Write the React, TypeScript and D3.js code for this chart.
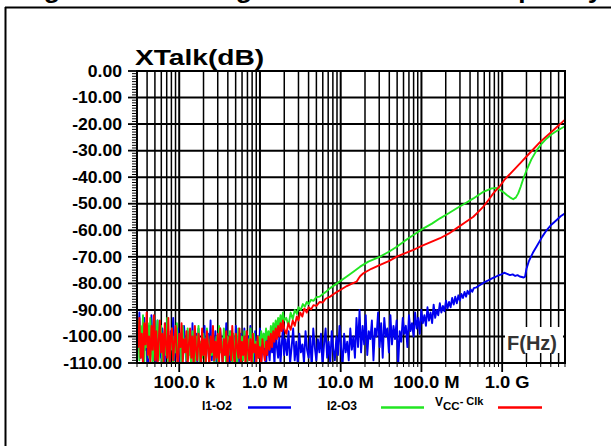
import React from "react";
import * as d3 from "d3";

// ---------- data ----------
const NOISE_F_KHZ = [
  30, 31.05, 32.1, 33.3, 34.4, 35.6, 36.9, 38.2, 39.5, 40.9,
  42.3, 43.8, 45.3, 46.9, 48.6, 50.3, 52, 53.9, 55.8, 57.7,
  59.7, 61.8, 64, 66.2, 68.5, 70.9, 73.4, 76, 78.6, 81.4,
  84.2, 87.2, 90.2, 93.4, 96.6, 100, 103.5, 107, 110.8, 114.7,
  118.7, 122.9, 127.2, 131.6, 136.2, 141, 145.9, 151, 156.3, 161.8,
  167.4, 173.3, 179.4, 185.6, 192.1, 198.8, 205.8, 213, 220.5, 228.2,
  236.2, 244.4, 253, 261.9, 271, 280.5, 290.3, 300.5, 311, 321.9,
  333.1, 344.8, 356.9, 369.4, 382.3, 395.6, 409.5, 423.8, 438.6, 454,
  469.9, 486.3, 503.3, 520.9, 539.2, 558, 577.6, 597.8, 618.7, 640.4,
  662.8, 686, 710, 734.8, 760.5, 787.2, 814.7, 843.2, 872.7, 903.3,
  934.9, 967.6, 1001, 1036, 1073, 1110, 1149, 1189, 1231, 1274,
  1319, 1365, 1413, 1462, 1513, 1566, 1621, 1678, 1737, 1797,
  1860, 1925, 1993,
];
const RED_LOW_DB = [
  -97, -104, -93, -108, -99, -111, -95, -103, -91, -107,
  -100, -110, -96, -105, -92, -109, -98, -112, -101, -94,
  -106, -99, -110, -95, -103, -108, -93, -111, -100, -97,
  -109, -102, -96, -107, -112, -99, -104, -95, -110, -101,
  -106, -98, -111, -103, -97, -108, -100, -112, -96, -105,
  -109, -99, -103, -111, -97, -107, -101, -110, -98, -104,
  -112, -100, -106, -96, -109, -102, -108, -99, -111, -97,
  -105, -110, -101, -107, -98, -112, -103, -100, -109, -96,
  -106, -111, -99, -104, -108, -97, -110, -102, -107, -100,
  -112, -98, -105, -109, -101, -111, -99, -106, -103, -110,
  -100, -108, -104, -111, -101, -106, -109, -102, -107, -100,
  -105, -99, -104, -98, -102, -97, -101, -96, -100, -95,
  -98, -94, -97,
];
const GREEN_LOW_DB = [
  -101, -94, -109, -96, -106, -92, -110, -99, -104, -95,
  -108, -93, -103, -111, -97, -106, -100, -94, -109, -102,
  -96, -111, -104, -98, -107, -93, -110, -101, -105, -97,
  -112, -100, -106, -95, -108, -103, -99, -111, -96, -105,
  -101, -109, -97, -107, -103, -112, -98, -104, -110, -100,
  -106, -96, -111, -102, -108, -99, -105, -112, -97, -103,
  -109, -101, -107, -98, -111, -104, -100, -110, -96, -106,
  -102, -109, -97, -105, -111, -100, -107, -98, -104, -110,
  -99, -106, -102, -111, -97, -108, -103, -100, -109, -98,
  -105, -110, -101, -107, -97, -104, -111, -99, -106, -102,
  -108, -100, -105, -98, -103, -99, -104, -97, -101, -98,
  -102, -96, -100, -95, -98, -94, -97, -93, -96, -92,
  -95, -91, -94,
];
const BLUE_LOW_DB = [
  -95, -103, -91, -108, -98, -110, -93, -105, -100, -112,
  -96, -107, -92, -104, -109, -99, -111, -94, -106, -101,
  -108, -97, -103, -110, -95, -107, -100, -112, -98, -104,
  -93, -109, -102, -106, -97, -111, -99, -105, -108, -96,
  -103, -110, -98, -106, -101, -112, -95, -108, -102, -99,
  -110, -97, -105, -109, -100, -106, -96, -111, -103, -99,
  -107, -94, -109, -102, -105, -98, -111, -100, -106, -97,
  -104, -110, -99, -107, -95, -108, -102, -111, -98, -105,
  -100, -109, -96, -106, -103, -112, -99, -104, -108, -97,
  -105, -110, -100, -107, -96, -109, -103, -111, -98, -106,
  -101, -108, -97, -110, -104, -99, -107, -112, -100, -105,
  -109, -98, -106, -102, -111, -96, -104, -108, -100, -110,
  -103, -97, -107,
];
const BLUE_MID_F_KHZ = [
  2070, 2163, 2260, 2362, 2468, 2579, 2695, 2817, 2943, 3076,
  3214, 3359, 3510, 3668, 3833, 4006, 4186, 4374, 4571, 4777,
  4992, 5217, 5451, 5697, 5953, 6221, 6501, 6794, 7099, 7419,
  7753, 8101, 8466, 8847, 9245, 9661, 10100, 10550, 11030, 11520,
  12040, 12580, 13150, 13740, 14360, 15010, 15680, 16390, 17120, 17890,
  18700, 19540, 20420, 21340, 22300, 23300, 24350, 25450, 26590, 27790,
  29040, 30350, 31710, 33140, 34630, 36190, 37820, 39520, 41300, 43160,
  45100, 47130, 49250, 51470, 53790, 56210, 58740, 61380, 64140, 67030,
  70050, 73200, 76490, 79930, 83530, 87290, 91220, 95320, 99610, 104100,
  108800, 113700, 118800, 124100, 129700, 135600, 141700, 148000, 154700, 161700,
  169000, 176600, 184500, 192800, 201500, 210500, 220000, 229900, 240300, 251100,
  262400, 274200, 286500, 299400, 312900, 327000, 341700, 357100, 373100, 389900,
  407500, 425800, 445000,
];
const BLUE_MID_DB = [
  -101, -107, -98, -110, -104, -97, -109, -102, -111, -99,
  -106, -103, -110, -98, -105, -108, -100, -112, -97, -104,
  -109, -101, -106, -99, -111, -103, -97, -108, -102, -110,
  -98, -105, -109, -100, -107, -96, -104, -111, -99, -106,
  -102, -109, -97, -105, -100, -108, -93, -104, -90, -106,
  -96, -103, -92, -107, -98, -101, -94, -109, -97, -100,
  -91, -104, -95, -108, -93, -100, -97, -106, -92, -103,
  -96, -101, -94, -111, -98, -102, -93, -99, -96, -104,
  -92, -98, -95, -100, -91, -97, -93, -99, -90, -95,
  -92, -96, -89, -94, -91, -95, -88, -93, -90, -92,
  -87.5, -91, -88.5, -90.5, -86.5, -89.5, -87, -89, -85.5, -88,
  -85, -87.5, -84.5, -86.5, -84, -85.5, -83.2, -85, -82.8, -84,
  -82.3, -83.2, -81.8,
];
const RED_HI_F_MHZ = [
  2.12, 2.25, 2.4, 2.55, 2.7, 2.86, 3.0, 3.15, 3.35, 3.55,
  3.8, 4.0, 4.3, 4.6, 5.0, 5.5, 6.0, 6.5, 7.4, 8.2,
  9.0, 10, 11.9, 14, 15.8, 16.8, 17.5, 19.1, 24, 30.8,
  40, 49.5, 62, 79.5, 96, 130, 170, 220, 274, 350,
  440, 510, 585, 680, 777, 940, 1080, 1370, 1700, 2210,
  3000, 4300, 6000,
];
const RED_HI_DB = [
  -99, -95, -97.5, -94, -96, -92.5, -94, -91, -92.5, -89.5,
  -91, -89, -89.8, -88.2, -88.5, -87, -87.2, -85.8, -85, -84,
  -83.2, -82.4, -81, -80, -79.3, -78, -77.2, -76.2, -74.5, -73,
  -71.5, -69.9, -68.7, -67.4, -66.2, -64.5, -63, -61.2, -59.2, -57,
  -54.9, -53, -51.1, -48.5, -46.1, -43.3, -40.8, -37.5, -34.5, -30.8,
  -26.5, -22.3, -18.3,
];
const GREEN_HI_F_MHZ = [
  2.12, 2.25, 2.4, 2.55, 2.7, 2.86, 3.0, 3.2, 3.4, 3.6,
  3.8, 4.0, 4.3, 4.6, 5.0, 5.5, 6.0, 6.5, 7.4, 9,
  11.9, 14.5, 17.4, 22, 30.8, 40, 49.5, 62, 79.5, 106,
  135, 170, 220, 274, 350, 440, 585, 742, 850, 940,
  1050, 1140, 1250, 1370, 1480, 1580, 1700, 1830, 2010, 2300,
  2680, 3100, 3560, 4100, 4730, 6000,
];
const GREEN_HI_DB = [
  -93, -96, -91, -93.5, -90, -91.5, -89, -90, -87.8, -88.8,
  -87, -87.8, -86.2, -86.6, -85.2, -85, -84, -83.3, -81.8, -80,
  -77.4, -75.5, -73.7, -71.8, -69.9, -68, -66.2, -64, -61.8, -59.3,
  -57.5, -55.5, -53.5, -51.7, -49.8, -48, -45.5, -44.2, -44.1, -44.8,
  -45.8, -46.7, -47.6, -48.3, -47.6, -46.1, -43.5, -40.5, -37.3, -33.3,
  -29.8, -27.3, -25.4, -23.8, -22.6, -20.8,
];
const BLUE_HI_F_MHZ = [
  480, 520, 560, 600, 650, 700, 760, 820, 900, 980,
  1060, 1150, 1250, 1350, 1450, 1550, 1650, 1750, 1850, 1920,
  2000, 2150, 2400, 2680, 3140, 3560, 4100, 4730, 5300, 6000,
];
const BLUE_HI_DB = [
  -81.5, -80.8, -80.2, -79.6, -79.1, -78.6, -78, -77.6, -77, -76.6,
  -76, -76.4, -76.9, -76.6, -77.2, -76.9, -77.4, -77.6, -77.8, -77.5,
  -74.5, -71.5, -68.5, -66, -62.4, -59.9, -57.8, -56.1, -54.7, -53.6,
];

const Y_TICKS = [0, -10, -20, -30, -40, -50, -60, -70, -80, -90, -100, -110];
const X_TICK_VALUES = [1e5, 1e6, 1e7, 1e8, 1e9];
const X_TICK_LABELS = ["100.0 k", "1.0 M", "10.0 M", "100.0 M", "1.0 G"];
const SERIES_NAMES = ["I1-O2", "I2-O3", "VCC- Clk"];
const SERIES_COLORS = ["#0000f0", "#22e622", "#ff0000"];

// ---------- layout ----------
const W = 611;
const H = 446;
const PL = 137, PR = 565, PT = 71, PB = 363;
const FONT = "'Liberation Sans', Arial, Helvetica, sans-serif";

type Pt = [number, number];
const pts = (f: number[], mult: number, v: number[]): Pt[] =>
  d3.zip(f, v).map(([a, b]) => [a * mult, b] as Pt);

export default function App() {
  const x = d3.scaleLog().domain([3e4, 6e9]).range([PL, PR]);
  const y = d3.scaleLinear().domain([-110, 0]).range([PB, PT]);

  const blue = [
    ...pts(NOISE_F_KHZ, 1e3, BLUE_LOW_DB),
    ...pts(BLUE_MID_F_KHZ, 1e3, BLUE_MID_DB),
    ...pts(BLUE_HI_F_MHZ, 1e6, BLUE_HI_DB),
  ];
  const green = [
    ...pts(NOISE_F_KHZ, 1e3, GREEN_LOW_DB),
    ...pts(GREEN_HI_F_MHZ, 1e6, GREEN_HI_DB),
  ];
  const red = [
    ...pts(NOISE_F_KHZ, 1e3, RED_LOW_DB),
    ...pts(RED_HI_F_MHZ, 1e6, RED_HI_DB),
  ];
  const line = d3
    .line<Pt>()
    .x((d) => x(d[0]))
    .y((d) => y(d[1]));

  const gridV: { v: number; major: boolean }[] = [];
  for (let k = 4; k <= 9; k++) {
    for (let d = 1; d <= 9; d++) {
      const v = d * Math.pow(10, k);
      if (v >= 3e4 * 0.999 && v <= 6e9 * 1.001) gridV.push({ v, major: d === 1 });
    }
  }
  const minorY: number[] = [];
  for (let v = 0; v >= -110; v -= 1) if (v % 10 !== 0) minorY.push(v);

  const legendX = [
    { label: 202, line: [248, 291] },
    { label: 327, line: [381, 424] },
    { label: 435, line: [498, 542] },
  ];

  return (
    <svg
      width={W}
      height={H}
      style={{ position: "absolute", left: 0, top: 0, background: "#fff" }}
      fontFamily={FONT}
    >
      <defs>
        <clipPath id="plotclip">
          <rect x={PL} y={PT} width={PR - PL} height={PB - PT} />
        </clipPath>
      </defs>
      <rect x={0} y={0} width={W} height={H} fill="#fff" />

      {/* figure title, cut off at the top edge as in the source */}
      <g transform="scale(1.16,1)" fontSize={23} fontWeight="bold" fill="#000">
        <text y={-2}>
          <tspan x={17.3}>Figure 2-11:</tspan>
          <tspan x={181.6}>Signal Crosstalk vs.</tspan>
          <tspan x={403.3}>Frequency</tspan>
        </text>
      </g>
      {/* outer frame */}
      <line x1={5} x2={W} y1={7.5} y2={7.5} stroke="#000" strokeWidth={2} />
      <line x1={5.5} x2={5.5} y1={7} y2={H} stroke="#000" strokeWidth={2} />

      {/* grid */}
      {gridV.map((g, i) => (
        <line
          key={"gv" + i}
          x1={x(g.v)}
          x2={x(g.v)}
          y1={PT}
          y2={PB}
          stroke="#000"
          strokeWidth={g.major ? 2 : 1.5}
        />
      ))}
      {Y_TICKS.map((t) => (
        <line key={"gh" + t} x1={PL} x2={PR} y1={y(t)} y2={y(t)} stroke="#000" strokeWidth={2} />
      ))}

      {/* data */}
      <g clipPath="url(#plotclip)" fill="none" strokeLinejoin="round">
        <path d={line(blue) || ""} stroke={SERIES_COLORS[0]} strokeWidth={1.9} />
        <path d={line(green) || ""} stroke={SERIES_COLORS[1]} strokeWidth={1.9} />
        <path d={line(red) || ""} stroke={SERIES_COLORS[2]} strokeWidth={1.9} />
      </g>

      {/* frame of plot */}
      <rect x={PL} y={PT} width={PR - PL} height={PB - PT} fill="none" stroke="#000" strokeWidth={2} />

      {/* y axis ticks */}
      {Y_TICKS.map((t) => (
        <line key={"yt" + t} x1={PL - 9} x2={PL} y1={y(t)} y2={y(t)} stroke="#000" strokeWidth={1.8} />
      ))}
      {minorY.map((t) => (
        <line key={"ym" + t} x1={PL - 5} x2={PL} y1={y(t)} y2={y(t)} stroke="#000" strokeWidth={1} />
      ))}
      {Y_TICKS.map((t) => (
        <text
          key={"yl" + t}
          transform={`translate(122,${y(t) + 5.7}) scale(1.1,1)`}
          textAnchor="end"
          fontSize={16}
          fontWeight="bold"
        >
          {t.toFixed(2)}
        </text>
      ))}

      {/* x axis ticks */}
      {gridV.map((g, i) => (
        <line
          key={"xt" + i}
          x1={x(g.v)}
          x2={x(g.v)}
          y1={PB}
          y2={PB + (g.major ? 9 : 4)}
          stroke="#000"
          strokeWidth={g.major ? 1.8 : 1}
        />
      ))}
      {X_TICK_VALUES.map((v, i) => (
        <text
          key={"xl" + i}
          transform={`translate(${x(v) + 5},388) scale(1.15,1)`}
          textAnchor="middle"
          fontSize={16}
          fontWeight="bold"
        >
          {X_TICK_LABELS[i]}
        </text>
      ))}

      {/* axis titles */}
      <text transform="translate(135,65) scale(1.28,1)" fontSize={22} fontWeight="bold">
        XTalk(dB)
      </text>
      <rect x={505} y={327} width={58} height={26} fill="#fff" />
      <text x={507} y={350} fontSize={20} fontWeight="bold" fill="#333">
        F(Hz)
      </text>

      {/* legend */}
      <text x={legendX[0].label} y={410} fontSize={12} fontWeight="bold">
        {SERIES_NAMES[0]}
      </text>
      <text x={legendX[1].label} y={410} fontSize={12} fontWeight="bold">
        {SERIES_NAMES[1]}
      </text>
      <text x={legendX[2].label} y={406} fontSize={12} fontWeight="bold">
        {SERIES_NAMES[2].slice(0, 1)}
        <tspan fontSize={11.5} dy={4}>
          {SERIES_NAMES[2].slice(1, 3)}
        </tspan>
        <tspan fontSize={11} dy={-5}>
          {SERIES_NAMES[2].slice(3)}
        </tspan>
      </text>
      {legendX.map((l, i) => (
        <line
          key={"lg" + i}
          x1={l.line[0]}
          x2={l.line[1]}
          y1={407.5}
          y2={407.5}
          stroke={SERIES_COLORS[i]}
          strokeWidth={2.5}
        />
      ))}
    </svg>
  );
}
